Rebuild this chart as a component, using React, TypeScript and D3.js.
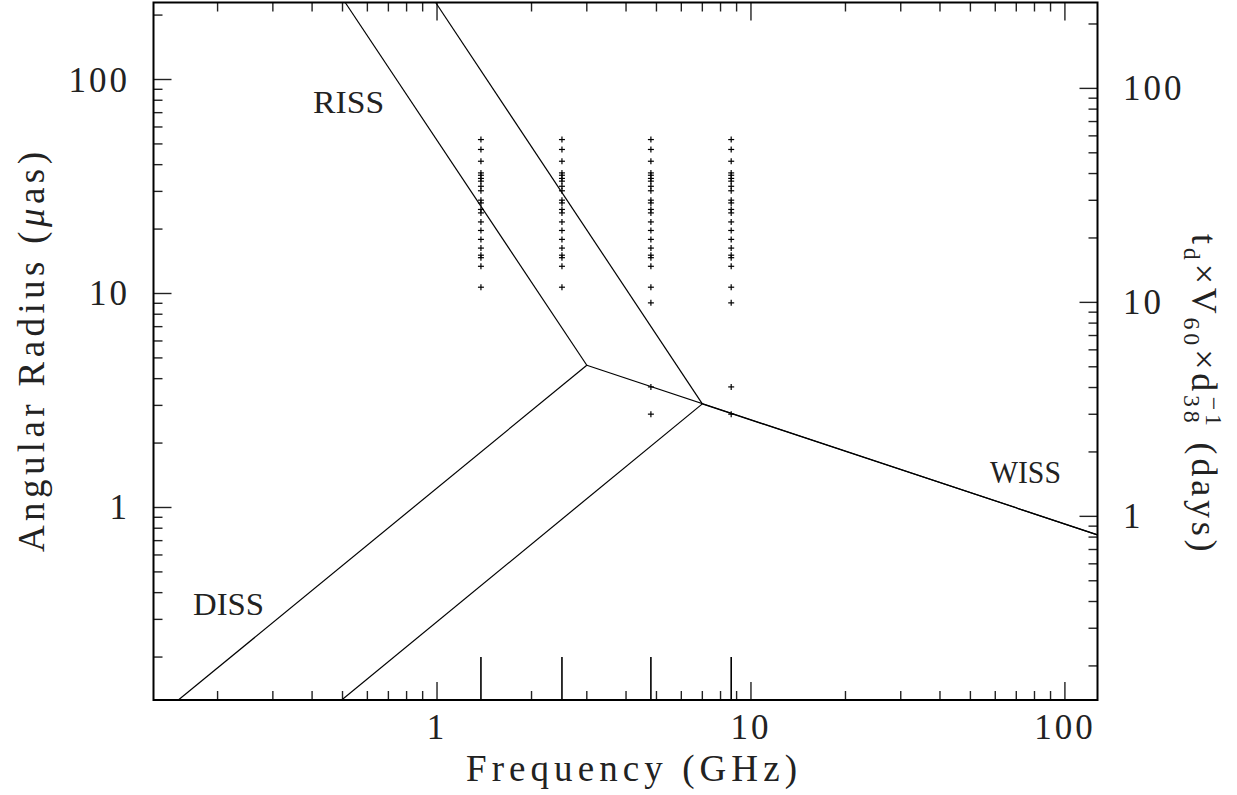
import React, { useEffect, useRef } from "react";
import * as d3 from "d3";

// frequencies of the observations (GHz)
const obsFreqs = [1.38, 2.5, 4.8, 8.65];

// angular radii (micro-arcsec) plotted at each frequency
const commonSizes = [
  52.4, 47.1, 41.5, 36.6, 35.7, 34.5, 33.5, 31.7, 30.2, 27.3, 26.5, 24.7,
  23.8, 21.6, 19.7, 17.9, 16.3, 15.1, 14.7, 13.4, 10.7,
];
const extraSizes = [9.04, 3.66, 2.73];
const sizesByFreq = [commonSizes, commonSizes, [...commonSizes, ...extraSizes], [...commonSizes, ...extraSizes]];

// regime boundaries, pairs of [GHz, uas]
const rissA = [[0.51, 229], [3.0, 4.62]];
const dissA = [[0.15, 0.126], [3.0, 4.62]];
const wissA = [[3.0, 4.62], [127, 0.745]];
const rissB = [[0.99, 229], [7.0, 3.05]];
const dissB = [[0.497, 0.126], [7.0, 3.05]];
const wissB = [[7.0, 3.05], [127, 0.745]];
const boundaries = [rissA, dissA, wissA, rissB, dissB, wissB];

const regimeLabels = [
  { text: "RISS", f: 0.403, a: 70 },
  { text: "DISS", f: 0.167, a: 0.314 },
  { text: "WISS", f: 57.7, a: 1.3 },
];

const xTicks = [1, 10, 100];
const yTicks = [1, 10, 100];

const W = 1237;
const H = 795;
const m = { left: 153.5, right: 1097.5, top: 2.5, bottom: 700 };
const FONT = "'Liberation Serif', 'Times New Roman', serif";

const App = () => {
  const ref = useRef<SVGSVGElement>(null);

  useEffect(() => {
    if (!ref.current) return;
    const svg = d3.select(ref.current);
    svg.selectAll("*").remove();

    const x = d3.scaleLog().domain([0.125, 127]).range([m.left, m.right]);
    const y = d3.scaleLog().domain([0.126, 229]).range([m.bottom, m.top]);
    const yR = d3.scaleLog().domain([0.1386, 252]).range([m.bottom, m.top]);

    svg
      .append("defs")
      .append("clipPath")
      .attr("id", "plotclip")
      .append("rect")
      .attr("x", m.left)
      .attr("y", m.top)
      .attr("width", m.right - m.left)
      .attr("height", m.bottom - m.top);

    // minor / major ticks
    const minorOf = (scale: any) => {
      const [a, b] = scale.domain();
      const out: { v: number; major: boolean }[] = [];
      for (let e = Math.floor(Math.log10(a)); e <= Math.ceil(Math.log10(b)); e++) {
        for (let k = 1; k <= 9; k++) {
          const v = k * Math.pow(10, e);
          if (v >= a && v <= b) out.push({ v, major: k === 1 });
        }
      }
      return out;
    };

    const ticks = svg.append("g").attr("stroke", "#222").attr("stroke-width", 1.4);
    minorOf(x).forEach((t) => {
      const len = t.major ? 18 : 9;
      const px = x(t.v);
      ticks.append("line").attr("x1", px).attr("x2", px).attr("y1", m.bottom).attr("y2", m.bottom - len);
      ticks.append("line").attr("x1", px).attr("x2", px).attr("y1", m.top).attr("y2", m.top + len);
    });
    minorOf(y).forEach((t) => {
      const len = t.major ? 18 : 9;
      const py = y(t.v);
      ticks.append("line").attr("x1", m.left).attr("x2", m.left + len).attr("y1", py).attr("y2", py);
    });
    minorOf(yR).forEach((t) => {
      const len = t.major ? 18 : 9;
      const py = yR(t.v);
      ticks.append("line").attr("x1", m.right).attr("x2", m.right - len).attr("y1", py).attr("y2", py);
    });

    // observing-frequency markers
    svg
      .append("g")
      .selectAll("line")
      .data(obsFreqs)
      .enter()
      .append("line")
      .attr("x1", (d) => x(d))
      .attr("x2", (d) => x(d))
      .attr("y1", m.bottom)
      .attr("y2", m.bottom - 43)
      .attr("stroke", "#000")
      .attr("stroke-width", 1.6);

    // boundary lines
    const line = d3
      .line<number[]>()
      .x((d) => x(d[0]))
      .y((d) => y(d[1]));
    svg
      .append("g")
      .attr("clip-path", "url(#plotclip)")
      .selectAll("path")
      .data(boundaries)
      .enter()
      .append("path")
      .attr("d", line)
      .attr("fill", "none")
      .attr("stroke", "#000")
      .attr("stroke-width", 1.2);

    // points
    const pts = svg.append("g").attr("stroke", "#000").attr("stroke-width", 1.2);
    obsFreqs.forEach((f, i) => {
      sizesByFreq[i].forEach((a) => {
        const px = x(f);
        const py = y(a);
        pts.append("line").attr("x1", px - 3).attr("x2", px + 3).attr("y1", py).attr("y2", py);
        pts.append("line").attr("x1", px).attr("x2", px).attr("y1", py - 3).attr("y2", py + 3);
      });
    });

    // frame
    svg
      .append("rect")
      .attr("x", m.left)
      .attr("y", m.top)
      .attr("width", m.right - m.left)
      .attr("height", m.bottom - m.top)
      .attr("fill", "none")
      .attr("stroke", "#000")
      .attr("stroke-width", 2);

    const txt = svg.append("g").attr("font-family", FONT).attr("fill", "#222");

    xTicks.forEach((v) => {
      txt
        .append("text")
        .attr("x", x(v))
        .attr("y", 739)
        .attr("text-anchor", "middle")
        .attr("font-size", 35)
        .attr("letter-spacing", 3)
        .text(String(v));
    });
    yTicks.forEach((v) => {
      txt
        .append("text")
        .attr("x", 130)
        .attr("y", y(v) + 12)
        .attr("text-anchor", "end")
        .attr("font-size", 35)
        .attr("letter-spacing", 3)
        .text(String(v));
      txt
        .append("text")
        .attr("x", 1123)
        .attr("y", yR(v) + 12)
        .attr("text-anchor", "start")
        .attr("font-size", 35)
        .attr("letter-spacing", 3)
        .text(String(v));
    });

    regimeLabels.forEach((l) => {
      txt
        .append("text")
        .attr("x", x(l.f))
        .attr("y", y(l.a))
        .attr("font-size", 32)
        .attr("textLength", 71)
        .attr("lengthAdjust", "spacingAndGlyphs")
        .text(l.text);
    });

    // axis titles
    txt
      .append("text")
      .attr("x", 466)
      .attr("y", 781)
      .attr("font-size", 37)
      .attr("textLength", 331)
      .attr("lengthAdjust", "spacing")
      .text("Frequency (GHz)");

    const yl = txt
      .append("text")
      .attr("transform", `translate(44,552) rotate(-90)`)
      .attr("font-size", 37)
      .attr("textLength", 400)
      .attr("lengthAdjust", "spacing");
    yl.append("tspan").text("Angular Radius (");
    yl.append("tspan").attr("font-style", "italic").text("\u03bc");
    yl.append("tspan").text("as)");

    const yr = txt
      .append("text")
      .attr("transform", `translate(1192,234) rotate(90)`)
      .attr("text-anchor", "start")
      .attr("font-size", 36)
      .attr("letter-spacing", 3.8);
    yr.append("tspan").text("t");
    yr.append("tspan").attr("font-size", 24).attr("dy", 8).text("d");
    yr.append("tspan").attr("dy", -8).text("\u00d7V");
    yr.append("tspan").attr("font-size", 24).attr("dy", 8).text("60");
    yr.append("tspan").attr("dy", -8).text("\u00d7d");
    yr.append("tspan").attr("font-size", 24).attr("dy", 8).text("38");
    yr.append("tspan").attr("font-size", 24).attr("dy", -22).attr("dx", -30).text("\u22121");
    yr.append("tspan").attr("dy", 14).text(" (days)");
  }, []);

  return (
    <svg
      ref={ref}
      width={W}
      height={H}
      style={{ position: "absolute", left: 0, top: 0, background: "#fff" }}
    ></svg>
  );
};

export default App;
